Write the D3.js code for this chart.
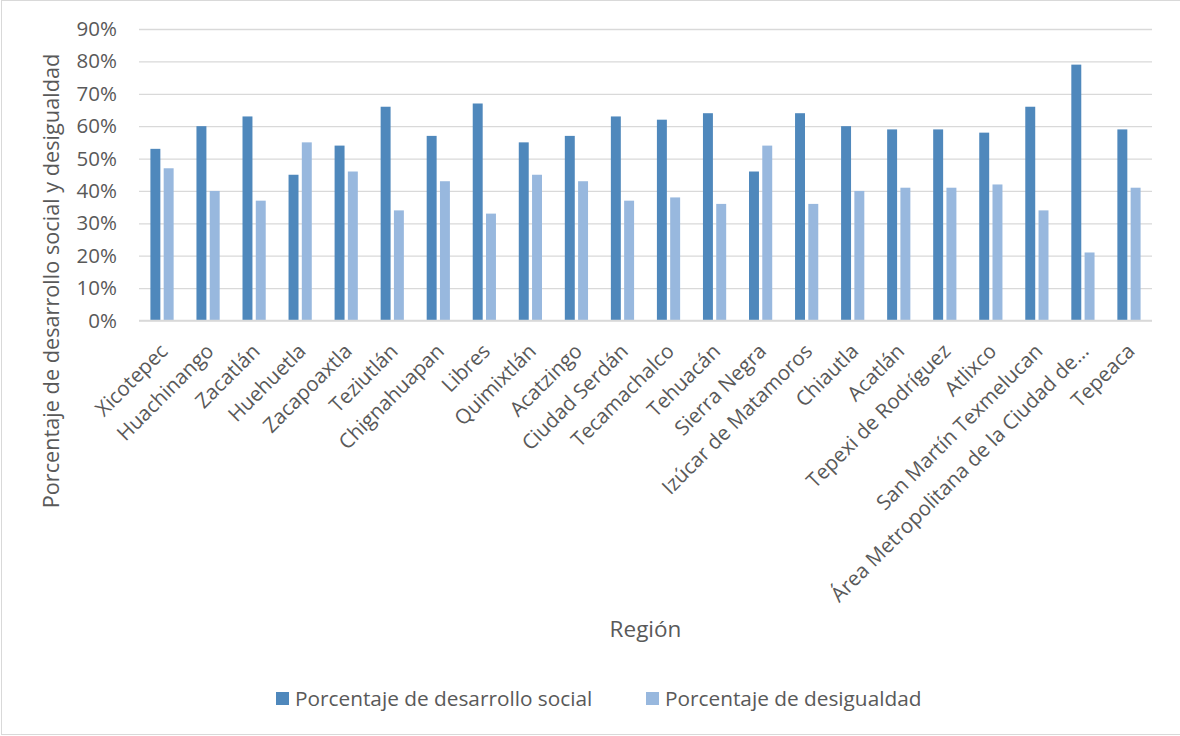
<!DOCTYPE html>
<html>
<head>
<meta charset="utf-8">
<script src="https://cdn.jsdelivr.net/npm/d3@7"></script>
<style>
  html, body { margin: 0; padding: 0; background: #fff; }
  svg { display: block; }
  text { font-family: "Open Sans", "Noto Sans", sans-serif; fill: #595959; }
</style>
</head>
<body>
<svg id="chart" width="1180" height="736"></svg>
<script>
const regions = ["Xicotepec","Huachinango","Zacatlán","Huehuetla","Zacapoaxtla","Teziutlán","Chignahuapan","Libres","Quimixtlán","Acatzingo","Ciudad Serdán","Tecamachalco","Tehuacán","Sierra Negra","Izúcar de Matamoros","Chiautla","Acatlán","Tepexi de Rodríguez","Atlixco","San Martín Texmelucan","Área Metropolitana de la Ciudad de…","Tepeaca"];
const desarrolloSocial = [53,60,63,45,54,66,57,67,55,57,63,62,64,46,64,60,59,59,58,66,79,59];
const desigualdad = [47,40,37,55,46,34,43,33,45,43,37,38,36,54,36,40,41,41,42,34,21,41];
const seriesNames = ["Porcentaje de desarrollo social","Porcentaje de desigualdad"];
const yTicks = [0,10,20,30,40,50,60,70,80,90];
const yAxisTitle = "Porcentaje de desarrollo social y desigualdad";
const xAxisTitle = "Región";

const colors = ["#4f88bc", "#98b8de"];
const svg = d3.select("#chart");

// chart border
svg.append("rect").attr("x",1.5).attr("y",0.5).attr("width",1180).attr("height",734)
  .attr("fill","none").attr("stroke","#d9d9d9").attr("stroke-width",1);

const pLeft = 139, pRight = 1152, pTop = 29, pBottom = 320.5;
const x = d3.scaleBand().domain(regions).range([pLeft, pRight]).paddingInner(0).paddingOuter(0);
const x1 = d3.scaleBand().domain([0,1]).range([0, x.bandwidth()]).paddingInner(0.25).paddingOuter(0.86);
const y = d3.scaleLinear().domain([0, 90]).range([pBottom, pTop]);

// gridlines
const yAxis = d3.axisLeft(y).tickValues(yTicks).tickFormat(d => d + "%").tickSize(-(pRight-pLeft)).tickPadding(22);
const gy = svg.append("g").attr("transform", `translate(${pLeft},0)`).call(yAxis);
gy.select(".domain").remove();
gy.selectAll(".tick line").attr("stroke","#d9d9d9").attr("stroke-width",1.3);
gy.selectAll(".tick text").attr("font-size", 20.5).attr("fill","#595959")
  .style("font-family", '"Open Sans", sans-serif');

// bars
const data = regions.map((r,i) => ({r, v:[desarrolloSocial[i], desigualdad[i]]}));
const groups = svg.append("g").selectAll("g").data(data).join("g")
  .attr("transform", d => `translate(${x(d.r)},0)`);
groups.selectAll("rect").data(d => d.v.map((v,k)=>({v,k}))).join("rect")
  .attr("x", d => x1(d.k)).attr("width", x1.bandwidth())
  .attr("y", d => y(d.v)).attr("height", d => y(0) - y(d.v))
  .attr("fill", d => colors[d.k]);

// baseline (0%) line redrawn on top
svg.append("line").attr("x1",pLeft).attr("x2",pRight).attr("y1",y(0)).attr("y2",y(0))
  .attr("stroke","#d9d9d9").attr("stroke-width",1.3);

// x labels
const xAxis = d3.axisBottom(x).tickSize(0).tickPadding(0);
const gx = svg.append("g").attr("transform", `translate(0,${pBottom})`).call(xAxis);
gx.select(".domain").remove();
gx.selectAll(".tick text")
  .attr("font-size", 20.5).attr("fill","#595959")
  .style("font-family", '"Open Sans", sans-serif')
  .attr("text-anchor","end")
  .attr("dy", null).attr("y", 0)
  .attr("transform", "translate(7,32) rotate(-45)");

// axis titles
svg.append("text").attr("transform", `translate(59,281) rotate(-90)`)
  .attr("text-anchor","middle").attr("font-size", 21.7).text(yAxisTitle);
svg.append("text").attr("x", (pLeft+pRight)/2).attr("y", 637)
  .attr("text-anchor","middle").attr("font-size", 22.5).text(xAxisTitle);

// legend
const legX = [276, 646];
seriesNames.forEach((s,i) => {
  svg.append("rect").attr("x", legX[i]).attr("y", 692).attr("width", 13).attr("height", 13).attr("fill", colors[i]);
  svg.append("text").attr("x", legX[i] + 19).attr("y", 706).attr("font-size", 20.8).text(s);
});
</script>
</body>
</html>
